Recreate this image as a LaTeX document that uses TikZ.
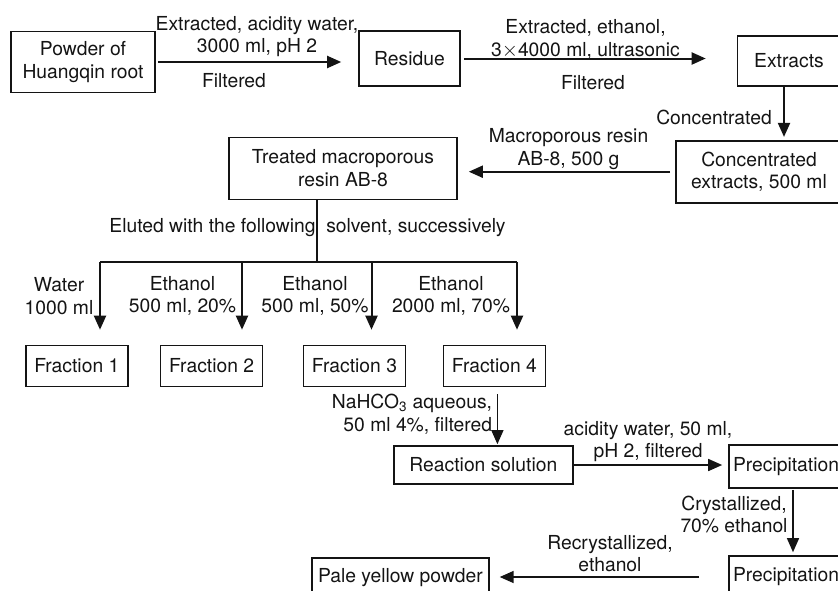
\documentclass[tikz,border=0pt]{standalone}
\usepackage{fontspec}
\setmainfont{TeX Gyre Heros}
\usetikzlibrary{arrows.meta}
\definecolor{LineClr}{rgb}{0.08,0.08,0.08}

\begin{document}
\begin{tikzpicture}[x=1pt,y=-1pt,
  font=\fontsize{19.3}{22.5}\selectfont,
  box/.style={draw=LineClr,line width=1.6pt,inner sep=0pt,align=center,text=LineClr},
  lbl/.style={align=center,inner sep=0pt,text=LineClr},
  flow/.style={draw=LineClr,line width=2pt,-{Triangle[length=14pt,width=12pt]}},
  feed/.style={draw=LineClr,line width=1.3pt,-{Triangle[length=14pt,width=12pt]}}]
\useasboundingbox (0,0) rectangle (838,590);

\node[box,minimum width=144pt,minimum height=61pt] (powder) at (83,62) {Powder of\\Huangqin root};
\node[box,minimum width=101pt,minimum height=55pt] (residue) at (409.5,58.5) {Residue};
\node[box,minimum width=103pt,minimum height=50pt] (extracts) at (789,61) {Extracts};
\node[box,minimum width=166pt,minimum height=62pt] (conc) at (759,171.7) {Concentrated\\extracts, 500 ml};
\node[box,minimum width=228pt,minimum height=62pt] (treated) at (343,168.3) {Treated macroporous\\resin AB-8};

\node[box,minimum width=102pt,minimum height=41pt] (frac1) at (76.8,366) {Fraction 1};
\node[box,minimum width=102pt,minimum height=41pt] (frac2) at (211.6,366) {Fraction 2};
\node[box,minimum width=102pt,minimum height=41pt] (frac3) at (354.5,366) {Fraction 3};
\node[box,minimum width=102pt,minimum height=41pt] (frac4) at (494.4,366) {Fraction 4};

\node[box,minimum width=179pt,minimum height=38pt] (reaction) at (483.4,465) {Reaction solution};
\node[box,minimum width=114pt,minimum height=43pt] (prec1) at (786,466.5) {Precipitation};
\node[box,minimum width=114pt,minimum height=42pt] (prec2) at (786,577) {Precipitation};
\node[box,minimum width=177pt,minimum height=40pt] (pale) at (400.4,578) {Pale yellow powder};

\draw[flow,shorten <=2pt,shorten >=17pt] (powder.east) -- (powder.east -| residue.west);
\draw[flow,shorten <=3pt,shorten >=31pt] (residue.east) -- (residue.east -| extracts.west);
\draw[flow,shorten >=3pt] ([xshift=-5pt]extracts.south) -- ([xshift=-5pt]extracts.south |- conc.north);
\draw[flow,shorten <=5pt,shorten >=11pt] (conc.west) -- (conc.west -| treated.east);

\coordinate (split) at (317,262);
\draw[LineClr,line width=1.1pt] (treated.south -| split) -- (split);
\foreach \i/\x in {1/100,2/242,3/371.5,4/517}{
  \coordinate (b\i) at (\x,262);
  \draw[flow,shorten >=15pt] (b\i) -- (b\i |- frac\i.north);
}
\draw[LineClr,line width=2pt] (b1) -- (b4);

\draw[feed,shorten <=7pt,shorten >=1pt] ([xshift=3pt]frac4.south) -- ([xshift=3pt]frac4.south |- reaction.north);
\draw[flow,line width=1.6pt,shorten >=6pt] (reaction.east) -- (reaction.east -| prec1.west);
\draw[feed,shorten <=1pt,shorten >=3pt] ([xshift=7pt]prec1.south) -- ([xshift=7pt]prec1.south |- prec2.north);
\draw[flow,line width=1.6pt,shorten <=29pt,shorten >=10pt] (prec2.west) -- (prec2.west -| pale.east);

\node[lbl] (acid) at (257,36.5) {Extracted, acidity water,\\3000 ml, pH 2};
\node[lbl] (filt1) at (234,81) {Filtered};
\node[lbl] (ethanol) at (585.5,39.5) {Extracted, ethanol,\\3$\times$4000 ml, ultrasonic};
\node[lbl] (filt2) at (593,83) {Filtered};
\node[lbl] (concd) at (714,117) {Concentrated};
\node[lbl] (resin) at (568.5,149) {Macroporous resin\\AB-8, 500 g};
\node[lbl] (eluted) at (307.5,228) {Eluted with the following\ \ solvent, successively};
\node[lbl] (water) at (59,296) {Water\\1000 ml};
\node[lbl] (eth20) at (182.5,296) {Ethanol\\500 ml, 20\%};
\node[lbl] (eth50) at (315,296) {Ethanol\\500 ml, 50\%};
\node[lbl] (eth70) at (451,296) {Ethanol\\2000 ml, 70\%};
\node[lbl,align=right] (nahco) at (412,414) {NaHCO\textsubscript{3} aqueous,\\50 ml 4\%, filtered};
\node[lbl] (acid2) at (648,441.7) {acidity water, 50 ml,\\pH 2, filtered};
\node[lbl] (cryst) at (734,514.6) {Crystallized,\\70\% ethanol};
\node[lbl] (recryst) at (610,553.4) {Recrystallized,\\ethanol};
\end{tikzpicture}
\end{document}
